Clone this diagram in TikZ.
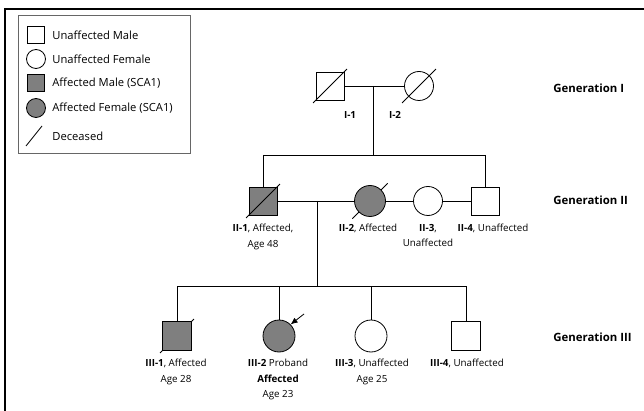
\documentclass[tikz,border=0pt]{standalone}
\usepackage{fontspec}
\setmainfont{Open Sans}
\usetikzlibrary{arrows.meta}
\definecolor{affgray}{HTML}{7F7F7F}
\tikzset{
  male/.style={draw, rectangle, minimum size=28pt, inner sep=0pt},
  female/.style={draw, circle, minimum size=31pt, inner sep=0pt},
  affected/.style={fill=affgray},
  lbl/.style={font=\fontsize{9.8}{15.5}\selectfont, align=center, anchor=north, inner sep=0pt},
  keytext/.style={font=\fontsize{11.2}{13}\selectfont, anchor=west, inner sep=0pt},
  gen/.style={font=\bfseries\fontsize{11.4}{13}\selectfont, anchor=west, inner sep=0pt},
}
\begin{document}
\begin{tikzpicture}[x=1pt, y=-1pt, line width=0.8pt]
  \useasboundingbox (0,0) rectangle (644,411);
  \draw [line width=1.4pt] (5,411) -- (5,9) -- (644,9);

  % key
  \draw [line width=0.6pt, black!60] (18,15) rectangle (190,153);
  \node [male, minimum size=17pt] (keyum) at (36,35) {};
  \node [female, minimum size=19pt] (keyuf) at (36,59) {};
  \node [male, affected, minimum size=17pt] (keyam) at (36,83) {};
  \node [female, affected, minimum size=19pt] (keyaf) at (36,108) {};
  \coordinate (keyda) at (26,146);
  \coordinate (keydb) at (42,126);
  \draw (keyda) -- (keydb);
  \node [keytext] (tum) at (52,35) {Unaffected Male};
  \node [keytext] (tuf) at (52,59) {Unaffected Female};
  \node [keytext] (tam) at (52,83) {Affected Male (SCA1)};
  \node [keytext] (taf) at (52,108) {Affected Female (SCA1)};
  \node [keytext] (tde) at (52,136) {Deceased};

  % generation I
  \node [male] (i1) at (330,86) {};
  \node [female, minimum size=29pt] (i2) at (419,86) {};
  \draw (i1.center) +(135:24) -- +(315:24);
  \draw (i2.center) +(135:24) -- +(315:24);
  \draw (i1) -- (i2);
  \coordinate (m1) at (373,86);
  \node [lbl, font=\bfseries\fontsize{9.8}{15}\selectfont] (li1) at (350,111) {I-1};
  \node [lbl, font=\bfseries\fontsize{9.8}{15}\selectfont] (li2) at (395,111) {I-2};

  % generation II
  \coordinate (s2) at (373,155);
  \draw (m1) -- (s2);
  \draw (370,201) +(135:25) -- +(315:25);
  \node [male, affected] (ii1) at (263,201) {};
  \node [female, affected] (ii2) at (370,201) {};
  \node [female, minimum size=29pt] (ii3) at (428,201) {};
  \node [male] (ii4) at (485,201) {};
  \draw (ii1.center) +(135:24) -- +(315:24);
  \draw (ii1 |- s2) -- (ii4 |- s2);
  \draw (ii1 |- s2) -- (ii1);
  \draw (ii4 |- s2) -- (ii4);
  \draw (ii1) -- (ii2);
  \draw (ii2) -- (ii3);
  \draw (ii3) -- (ii4);
  \coordinate (m2) at (317,201);
  \node [lbl] (lii1) at (263,224) {\textbf{II-1}, Affected,\\Age 48};
  \node [lbl] (lii2) at (368,224) {\textbf{II-2}, Affected};
  \node [lbl] (lii3) at (428,224) {\textbf{II-3},\\Unaffected};
  \node [lbl] (lii4) at (493,224) {\textbf{II-4}, Unaffected};

  % generation III
  \coordinate (s3) at (317,286);
  \draw (m2) -- (s3);
  \draw (177,336) +(135:24) -- +(315:24);
  \node [male, affected, minimum size=29pt] (iii1) at (177,336) {};
  \node [female, affected, minimum size=32pt] (iii2) at (279,336) {};
  \node [female, minimum size=32pt] (iii3) at (371,336) {};
  \node [male, minimum size=29pt] (iii4) at (466,336) {};
  \draw (iii1 |- s3) -- (iii4 |- s3);
  \foreach \k in {iii1, iii2, iii3, iii4}
    \draw (\k |- s3) -- (\k);
  \coordinate (prob) at (304,314);
  \draw [-{Latex[length=7pt, width=6pt]}] (prob) -- (iii2.45);
  \node [lbl] (liii1) at (176,359) {\textbf{III-1}, Affected\\Age 28};
  \node [lbl] (liii2) at (278,359) {\textbf{III-2} Proband\\\textbf{Affected}\\Age 23};
  \node [lbl] (liii3) at (372,359) {\textbf{III-3}, Unaffected\\Age 25};
  \node [lbl] (liii4) at (467,359) {\textbf{III-4}, Unaffected};

  % generation labels
  \node [gen] (g1) at (553,88) {Generation I};
  \node [gen] (g2) at (553,200) {Generation II};
  \node [gen] (g3) at (553,337) {Generation III};
\end{tikzpicture}
\end{document}
